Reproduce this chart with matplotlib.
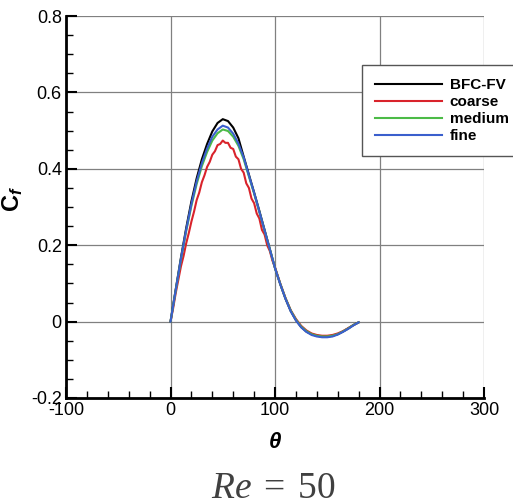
import matplotlib
matplotlib.use("Agg")
import matplotlib.pyplot as plt
from matplotlib.ticker import MultipleLocator

plt.rcParams['font.family'] = ['Liberation Sans', 'DejaVu Sans']
plt.rcParams['axes.unicode_minus'] = False
plt.rcParams['mathtext.fontset'] = 'custom'
plt.rcParams['mathtext.rm'] = 'Liberation Serif'
plt.rcParams['mathtext.it'] = 'Liberation Serif:italic'
plt.rcParams['mathtext.bf'] = 'Liberation Sans:bold'
plt.rcParams['mathtext.bfit'] = 'Liberation Sans:bold:italic'

# angle (deg) and skin friction values
theta = [0, 5, 10, 15, 20, 25, 30, 35, 40, 45, 50, 55, 60, 65, 70, 75, 80, 85, 90,
         95, 100, 105, 110, 115, 120, 125, 130, 135, 140, 145, 150, 155, 160, 165,
         170, 175, 180]
cf_bfc = [0, 0.085, 0.168, 0.245, 0.315, 0.375, 0.425, 0.465, 0.498, 0.52, 0.53,
          0.525, 0.508, 0.48, 0.432, 0.385, 0.338, 0.29, 0.24, 0.19, 0.14, 0.098,
          0.06, 0.028, 0.004, -0.014, -0.026, -0.033, -0.037, -0.039, -0.039,
          -0.037, -0.033, -0.026, -0.018, -0.009, -0.002]
cf_medium = [0, 0.082, 0.163, 0.237, 0.303, 0.36, 0.407, 0.444, 0.474, 0.493,
             0.503, 0.499, 0.484, 0.46, 0.425, 0.38, 0.335, 0.287, 0.238, 0.19,
             0.14, 0.099, 0.061, 0.029, 0.005, -0.013, -0.025, -0.033, -0.037,
             -0.039, -0.039, -0.037, -0.033, -0.026, -0.018, -0.009, -0.002]
cf_fine = [0, 0.083, 0.165, 0.24, 0.308, 0.367, 0.415, 0.453, 0.484, 0.503, 0.513,
           0.508, 0.492, 0.466, 0.43, 0.383, 0.337, 0.288, 0.239, 0.19, 0.14,
           0.098, 0.06, 0.027, 0.003, -0.015, -0.027, -0.035, -0.039, -0.041,
           -0.041, -0.039, -0.034, -0.027, -0.019, -0.01, -0.002]

theta_c = [0, 2.5, 5, 7.5, 10, 12.5, 15, 17.5, 20, 22.5, 25, 27.5, 30, 32.5, 35,
           37.5, 40, 42.5, 45, 47.5, 50, 52.5, 55, 57.5, 60, 62.5, 65, 67.5, 70,
           72.5, 75, 77.5, 80, 82.5, 85, 87.5, 90, 92.5, 95, 97.5, 100, 105, 110,
           115, 120, 125, 130, 135, 140, 145, 150, 155, 160, 165, 170, 175, 180]
cf_coarse = [0, 0.035, 0.075, 0.11, 0.145, 0.172, 0.205, 0.232, 0.262, 0.288,
             0.318, 0.338, 0.365, 0.383, 0.405, 0.418, 0.437, 0.446, 0.462, 0.465,
             0.474, 0.468, 0.468, 0.455, 0.452, 0.432, 0.425, 0.4, 0.39, 0.362,
             0.35, 0.322, 0.31, 0.283, 0.27, 0.24, 0.228, 0.2, 0.185, 0.16, 0.142,
             0.1, 0.062, 0.03, 0.007, -0.011, -0.023, -0.031, -0.035, -0.037,
             -0.037, -0.035, -0.031, -0.025, -0.017, -0.009, -0.002]

xticks = [-100, 0, 100, 200, 300]
yticks = [-0.2, 0, 0.2, 0.4, 0.6, 0.8]
ytick_labels = ['-0.2', '0', '0.2', '0.4', '0.6', '0.8']

fig = plt.figure(figsize=(5.13, 5.01), dpi=100)
ax = fig.add_axes([0.1287, 0.2056, 0.8148, 0.7624])

ax.plot(theta, cf_bfc, color='black', lw=1.5, label='BFC-FV')
ax.plot(theta_c, cf_coarse, color='#d9232b', lw=1.5, label='coarse')
ax.plot(theta, cf_medium, color='#4cbb47', lw=1.5, label='medium')
ax.plot(theta, cf_fine, color='#3a5fcd', lw=1.5, label='fine')

ax.set_xlim(-100, 300)
ax.set_ylim(-0.2, 0.8)
ax.set_xticks(xticks)
ax.set_yticks(yticks)
ax.set_yticklabels(ytick_labels)
ax.xaxis.set_minor_locator(MultipleLocator(20))
ax.yaxis.set_minor_locator(MultipleLocator(0.05))
ax.tick_params(which='major', direction='in', length=8, width=1.5, labelsize=13, pad=3)
ax.tick_params(which='minor', direction='in', length=5, width=1)
ax.grid(True, which='major', color='#808080', lw=0.9)
ax.set_axisbelow(True)

for s in ['top', 'right']:
    ax.spines[s].set_visible(False)
for s in ['left', 'bottom']:
    ax.spines[s].set_linewidth(2)

ax.set_xlabel('θ', fontsize=16, fontweight='bold', fontstyle='italic', labelpad=9)
ax.set_ylabel(r'$\mathbf{C}_{\mathbfit{f}}$', fontsize=17)
ax.yaxis.set_label_coords(-0.098, 0.52)

leg = fig.legend(loc='upper left', bbox_to_anchor=(362 / 513, 1 - 65 / 501),
                 borderaxespad=0, borderpad=0.85, handlelength=4.4,
                 handletextpad=0.5, labelspacing=0.2, fancybox=False,
                 prop={'weight': 'bold', 'size': 11})
leg.get_frame().set_edgecolor('#555555')
leg.get_frame().set_linewidth(1)
leg.get_frame().set_alpha(1)

fig.text(0.532, 3 / 501, r'$Re\;=\;50$', fontsize=27, color='#404040',
         ha='center', va='baseline')

fig.savefig('out.png', dpi=100)
